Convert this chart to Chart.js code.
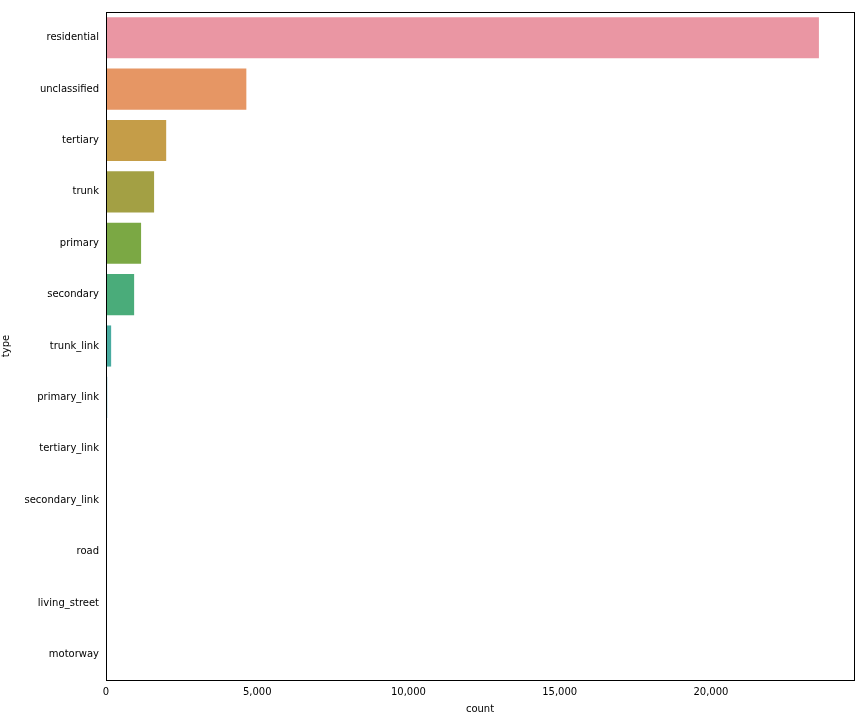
<!DOCTYPE html>
<html><head><meta charset="utf-8">
<script src="https://cdn.jsdelivr.net/npm/chart.js@4"></script>
<style>body{margin:0;background:#fff}#wrap{width:864px;height:720px}</style>
</head><body><div id="wrap"><canvas id="c"></canvas></div>
<script>
const types = ['residential','unclassified','tertiary','trunk','primary','secondary','trunk_link','primary_link','tertiary_link','secondary_link','road','living_street','motorway'];
const counts = [23570, 4640, 1990, 1590, 1160, 930, 170, 40, 25, 12, 4, 3, 2];
const colors = ['#ea96a3','#e69664','#c59d48','#a3a044','#7ba844','#4aac7a','#48aba0','#4aa8b9','#55a3cf','#8a9fe0','#b79be0','#de8fd7','#e993c1'];
const xTicks = [0, 5000, 10000, 15000, 20000];

Chart.defaults.font.family = 'DejaVu Sans';
Chart.defaults.font.size = 10;
Chart.defaults.color = '#000';

const frame = {
  id: 'frame',
  afterDraw(chart) {
    const a = chart.chartArea, ctx = chart.ctx;
    ctx.save(); ctx.strokeStyle = '#000'; ctx.lineWidth = 1;
    ctx.strokeRect(a.left + 0.5, a.top + 0.5, a.right - a.left, a.bottom - a.top);
    ctx.restore();
  }
};

new Chart(document.getElementById('c'), {
  type: 'bar',
  data: { labels: types, datasets: [{ data: counts, backgroundColor: colors, categoryPercentage: 1, barPercentage: 0.8 }] },
  options: {
    indexAxis: 'y', responsive: true, maintainAspectRatio: false, animation: false,
    layout: { padding: { top: 12, right: 10, left: 0, bottom: 0 } },
    plugins: { legend: { display: false }, tooltip: { enabled: false } },
    scales: {
      x: {
        min: 0, max: 24730,
        afterBuildTicks(s) { s.ticks = xTicks.map(v => ({ value: v })); },
        grid: { display: false, drawTicks: true, tickLength: 4, tickColor: '#000' },
        border: { color: '#000' },
        ticks: { padding: 2, maxRotation: 0 },
        title: { display: true, text: 'count', padding: { top: 2, bottom: 5 } },
        afterFit(s) { s.height = 40; }
      },
      y: {
        grid: { display: false, drawTicks: true, tickLength: 4, tickColor: '#000' },
        border: { color: '#000' },
        ticks: { padding: 3 },
        title: { display: true, text: 'type', padding: { top: 0, bottom: 2 } },
        afterFit(s) { s.width = 106; }
      }
    }
  },
  plugins: [frame]
});
</script></body></html>
